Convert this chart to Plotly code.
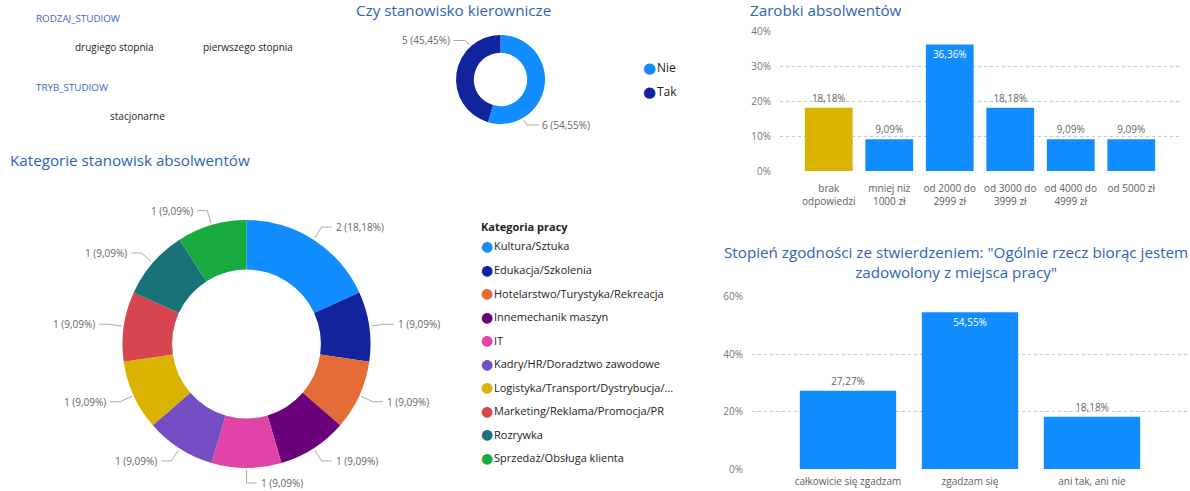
import math
import plotly.graph_objects as go

W, H = 1190, 491
FONT = "Segoe UI, Open Sans, sans-serif"
TITLE_COLOR = "#2E63B8"
LABEL_COLOR = "#666666"

# ---------------- data ----------------
slicer_rodzaj_title = "RODZAJ_STUDIOW"
slicer_rodzaj = ["drugiego stopnia", "pierwszego stopnia"]
slicer_tryb_title = "TRYB_STUDIOW"
slicer_tryb = ["stacjonarne"]

kier_title = "Czy stanowisko kierownicze"
kier_labels = ["Nie", "Tak"]
kier_values = [6, 5]
kier_colors = ["#118DFF", "#12239E"]

kat_title = "Kategorie stanowisk absolwentów"
kat_legend_title = "Kategoria pracy"
kat_labels = ["Kultura/Sztuka", "Edukacja/Szkolenia", "Hotelarstwo/Turystyka/Rekreacja",
              "Innemechanik maszyn", "IT", "Kadry/HR/Doradztwo zawodowe",
              "Logistyka/Transport/Dystrybucja/...", "Marketing/Reklama/Promocja/PR",
              "Rozrywka", "Sprzedaż/Obsługa klienta"]
kat_values = [2, 1, 1, 1, 1, 1, 1, 1, 1, 1]
kat_colors = ["#118DFF", "#12239E", "#E66C37", "#6B007B", "#E044A7",
              "#744EC2", "#D9B300", "#D64550", "#197278", "#1AAB40"]

zar_title = "Zarobki absolwentów"
zar_cats = ["brak<br>odpowiedzi", "mniej niż<br>1000 zł", "od 2000 do<br>2999 zł",
            "od 3000 do<br>3999 zł", "od 4000 do<br>4999 zł", "od 5000 zł"]
zar_vals = [0.1818, 0.0909, 0.3636, 0.1818, 0.0909, 0.0909]
zar_colors = ["#D9B300", "#118DFF", "#118DFF", "#118DFF", "#118DFF", "#118DFF"]

zad_title = "Stopień zgodności ze stwierdzeniem: \"Ogólnie rzecz biorąc jestem<br>zadowolony z miejsca pracy\""
zad_cats = ["całkowicie się zgadzam", "zgadzam się", "ani tak, ani nie"]
zad_vals = [0.2727, 0.5455, 0.1818]


# ---------------- helpers ----------------
def px(x):
    return x / W


def py(y):
    return 1 - y / H


def fmt_pct(v, total):
    return f"{v / total * 100:.2f}".replace(".", ",") + "%"


fig = go.Figure()
annotations = []
shapes = []


def add_text(x, y, text, size, color, anchor="left", family=FONT, yanchor="middle"):
    annotations.append(dict(x=px(x), y=py(y), xref="paper", yref="paper", text=text,
                            showarrow=False, xanchor=anchor, yanchor=yanchor,
                            borderpad=0, borderwidth=0,
                            font=dict(size=size, color=color, family=family)))


# ---------------- bar charts ----------------
def bar_positions(vals, ymax):
    return ["inside" if v > ymax * 0.75 else "outside" for v in vals]


fig.add_trace(go.Bar(
    x=zar_cats, y=zar_vals, marker=dict(color=zar_colors, line=dict(width=0)),
    texttemplate="%{y:.2%}", textposition=bar_positions(zar_vals, 0.4),
    insidetextanchor="end",
    insidetextfont=dict(color="white", size=10, family=FONT),
    outsidetextfont=dict(color=LABEL_COLOR, size=10, family=FONT),
    cliponaxis=False, xaxis="x", yaxis="y", showlegend=False, hoverinfo="x+y"))

fig.add_trace(go.Bar(
    x=zad_cats, y=zad_vals, marker=dict(color="#118DFF", line=dict(width=0)),
    texttemplate="%{y:.2%}", textposition=bar_positions(zad_vals, 0.6),
    insidetextanchor="end",
    insidetextfont=dict(color="white", size=10, family=FONT),
    outsidetextfont=dict(color=LABEL_COLOR, size=10, family=FONT),
    cliponaxis=False, xaxis="x2", yaxis="y2", showlegend=False, hoverinfo="x+y"))

# ---------------- donuts ----------------
def add_donut(labels, values, colors, cx, cy, r, hole, label_angles=None,
              elbow=15, hlen=10, gap=4):
    fig.add_trace(go.Pie(
        labels=labels, values=values, marker=dict(colors=colors, line=dict(width=0)),
        hole=hole, sort=False, direction="clockwise", rotation=0,
        textinfo="none", showlegend=False, automargin=False,
        domain=dict(x=[px(cx - r), px(cx + r)], y=[py(cy + r), py(cy - r)])))
    total = sum(values)
    if label_angles is None:
        label_angles = []
        acc = 0
        for v in values:
            label_angles.append((acc + v / 2) / total * 360)
            acc += v
    for v, ang in zip(values, label_angles):
        a = math.radians(ang)
        s, c = math.sin(a), math.cos(a)
        x0, y0 = cx + (r + 2) * s, cy - (r + 2) * c
        x1, y1 = cx + (r + elbow) * s, cy - (r + elbow) * c
        side = 1 if s >= -1e-9 else -1
        x2 = x1 + side * hlen
        shapes.append(dict(
            type="path", xref="paper", yref="paper",
            path=f"M {px(x0)},{py(y0)} L {px(x1)},{py(y1)} L {px(x2)},{py(y1)}",
            line=dict(color="#AAAAAA", width=1)))
        add_text(x2 + side * gap, y1, f"{v} ({fmt_pct(v, total)})", 10, LABEL_COLOR,
                 anchor="left" if side > 0 else "right")


add_donut(kier_labels, kier_values, kier_colors, 500.5, 79.5, 44.5, 0.6,
          label_angles=[150, 318], elbow=8, hlen=12, gap=3)
add_donut(kat_labels, kat_values, kat_colors, 246.5, 344, 124, 0.6)

# ---------------- legends (text) ----------------
def legend_item(x, y, color, text, size):
    add_text(x, y, "●", size + 3, color, anchor="center", family="DejaVu Sans")
    add_text(x + 7, y, text, size, "#252423")


for i, (lab, col) in enumerate(zip(kier_labels, kier_colors)):
    legend_item(650, 68 + i * 24, col, lab, 12)

add_text(481, 226, f"<b>{kat_legend_title}</b>", 11, "#252423")
for i, (lab, col) in enumerate(zip(kat_labels, kat_colors)):
    legend_item(487, 246 + i * 23.5, col, lab, 11)

# ---------------- titles ----------------
add_text(453.5, 9.5, kier_title, 15.2, TITLE_COLOR, anchor="center")
add_text(750, 9.5, zar_title, 15.2, TITLE_COLOR)
add_text(10, 160, kat_title, 15.2, TITLE_COLOR)
add_text(956, 261.5, zad_title, 15.2, TITLE_COLOR, anchor="center")

# ---------------- slicers ----------------
add_text(36, 18, slicer_rodzaj_title, 9.8, "#3A68C5")
for x, t in zip([75, 203], slicer_rodzaj):
    add_text(x, 47, t, 10, "#252423")
add_text(36, 87, slicer_tryb_title, 9.8, "#3A68C5")
for x, t in zip([110], slicer_tryb):
    add_text(x, 116, t, 10, "#252423")

# ---------------- layout ----------------
axis_common = dict(showline=False, zeroline=False, ticks="", automargin=False)
fig.update_layout(
    width=W, height=H, autosize=False,
    margin=dict(l=0, r=0, t=0, b=0, pad=0, autoexpand=False),
    paper_bgcolor="white", plot_bgcolor="white",
    separators=", ",
    font=dict(family=FONT, size=10, color=LABEL_COLOR),
    bargap=0.21,
    xaxis=dict(domain=[px(780), px(1180)], range=[-0.806, 5.806], showgrid=False,
               ticklabelstandoff=10,
               tickfont=dict(size=10, color="#605E5C"), fixedrange=True, **axis_common),
    yaxis=dict(domain=[py(171), py(31.7)], range=[0, 0.4], dtick=0.1, tickformat=".0%",
               showgrid=True, gridcolor="#C8C8C8", griddash="dot", gridwidth=1,
               ticklabelstandoff=8, tickfont=dict(size=10, color="#777777"),
               fixedrange=True, **axis_common),
    xaxis2=dict(domain=[px(752), px(1188)], range=[-0.787, 2.787], showgrid=False,
                anchor="y2", ticklabelstandoff=5,
                tickfont=dict(size=10, color="#605E5C"), fixedrange=True,
                **axis_common),
    yaxis2=dict(domain=[py(469), py(296.7)], range=[0, 0.6], dtick=0.2, tickformat=".0%",
                anchor="x2", showgrid=True, gridcolor="#C8C8C8", griddash="dot",
                gridwidth=1, ticklabelstandoff=8, tickfont=dict(size=10, color="#777777"),
                fixedrange=True, **axis_common),
    annotations=annotations,
    shapes=shapes,
)

fig.write_html(
    "out.html",
    config={"displayModeBar": False},
    post_script=(
        "var d=document.getElementById('{plot_id}');"
        "d.style.position='absolute';d.style.top='0px';d.style.left='0px';"
        "document.body.style.margin='0';document.body.style.padding='0';"
        "document.body.style.overflow='hidden';"
        "document.documentElement.style.overflow='hidden';"
    ),
)
